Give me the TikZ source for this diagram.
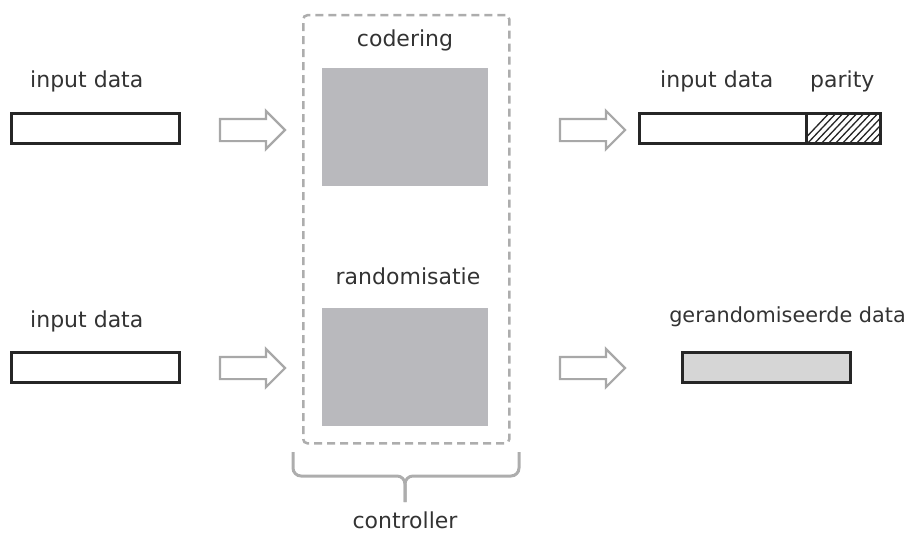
\documentclass[tikz,border=0pt]{standalone}
\usepackage{fontspec}
\setmainfont{DejaVu Sans}
\usetikzlibrary{shapes.arrows}
\definecolor{procgray}{HTML}{B9B9BD}
\definecolor{framegray}{HTML}{ADADAD}
\definecolor{arrowgray}{HTML}{A8A8A8}
\definecolor{textdark}{HTML}{333333}
\definecolor{randfill}{HTML}{D6D6D6}
\begin{document}
\begin{tikzpicture}[x=1pt,y=-1pt,
  lbl/.style={font=\fontsize{22}{26}\selectfont, text=textdark, inner sep=0pt},
  bar/.style={draw=black!85, line width=2.5pt, fill=white, inner sep=0pt,
    minimum height=30pt, anchor=north west},
  proc/.style={fill=procgray, inner sep=0pt, minimum width=166pt,
    minimum height=118pt, anchor=north west},
  flow/.style={single arrow, draw=arrowgray, line width=2.2pt, fill=white,
    inner sep=10pt, minimum width=36pt, single arrow head extend=8pt,
    minimum height=65pt, anchor=center}
]
\useasboundingbox (0,0) rectangle (910,535);

% controller frame with its two processing blocks
\node[draw=framegray, dash pattern=on 8pt off 5pt, line width=2.5pt,
  rounded corners=4pt, inner sep=0pt, minimum width=206pt, minimum height=428pt,
  anchor=north west] (ctrl) at (302,14) {};
\node[lbl, anchor=base] (codlbl) at (405,47) {codering};
\node[proc] (cod) at (322,68) {};
\node[lbl, anchor=base] (randlbl) at (408,284) {randomisatie};
\node[proc] (rand) at (322,308) {};

% brace under the controller
\coordinate (bl) at (293,452);
\coordinate (br) at (519,452);
\coordinate (btip) at (405,502);
\draw[framegray, line width=3pt, rounded corners=8pt]
  (bl) -- (293,476) -- (405,476) -- (btip);
\draw[framegray, line width=3pt, rounded corners=8pt]
  (br) -- (519,476) -- (405,476) -- (btip);
\node[lbl, anchor=base] (ctrllbl) at (405,528) {controller};

% top row: input data -> codering -> data + parity
\node[lbl, anchor=base west] (in1lbl) at (30,88) {input data};
\node[bar, minimum width=168pt] (in1) at (10,112) {};
\node[flow] (a1) at (247,130) {};
\node[flow] (a2) at (587,130) {};
\node[bar, minimum width=167pt] (out1) at (638,112) {};
\node[bar, minimum width=74pt] (par) at (805,112) {};
\begin{scope}
  \clip (par.south west) rectangle (par.north east);
  \foreach \i in {0,...,16} {
    \draw[black!85, line width=1.3pt] (798+7*\i,146) -- (834+7*\i,108);
  }
\end{scope}
\node[bar, minimum width=74pt, fill=none] at (805,112) {};
\node[lbl, anchor=base west] (out1lbl) at (660,88) {input data};
\node[lbl, anchor=base west] (parlbl) at (810,88) {parity};

% bottom row: input data -> randomisatie -> randomised data
\node[lbl, anchor=base west] (in2lbl) at (30,327) {input data};
\node[bar, minimum width=168pt] (in2) at (10,351) {};
\node[flow] (a3) at (247,368) {};
\node[flow] (a4) at (587,368) {};
\node[bar, minimum width=168pt, fill=randfill] (out2) at (681,351) {};
\node[lbl, font=\fontsize{20.8}{25}\selectfont, anchor=base east] (out2lbl)
  at (906,322) {gerandomiseerde data};
\end{tikzpicture}
\end{document}
